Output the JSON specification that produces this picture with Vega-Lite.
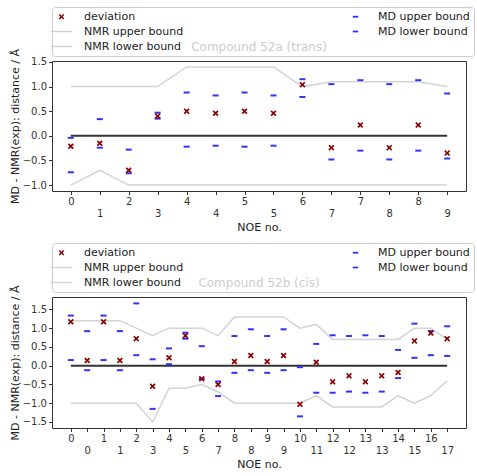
{
  "$schema": "https://vega.github.io/schema/vega-lite/v6.json",
  "padding": {"left": 8, "top": 6, "right": 5, "bottom": 5},
  "spacing": 9,
  "config": {
    "font": "DejaVu Sans",
    "view": {"stroke": "#333333", "strokeWidth": 1},
    "axis": {"labelFont": "DejaVu Sans", "labelFontSize": 10, "labelColor": "#333333", "titleFont": "DejaVu Sans", "titleFontSize": 11, "titleFontWeight": "normal", "titleColor": "#222222", "tickColor": "#333333", "tickSize": 3.5, "domain": false, "grid": false, "labelOverlap": false, "labelFlush": false},
    "legend": {"orient": "none", "legendX": 0, "legendY": -54, "columns": 2, "columnPadding": 166, "rowPadding": 3, "padding": 4, "strokeColor": "#cccccc", "fillColor": "white", "cornerRadius": 3, "symbolSize": 30, "labelFont": "DejaVu Sans", "labelFontSize": 11, "labelColor": "#222222", "labelOffset": 17, "title": null, "symbolStrokeWidth": 0},
    "title": {"font": "DejaVu Sans", "fontSize": 12, "fontWeight": "normal", "color": "#cccccc", "anchor": "middle", "offset": -47.5}
  },
  "resolve": {"scale": {"x": "independent", "y": "independent", "color": "independent", "shape": "independent"}, "legend": {"color": "independent", "shape": "independent"}},
  "vconcat": [
    {
      "width": 414, "height": 130,
      "title": "Compound 52a (trans)",
      "data": {"values": [
        {"pos": 0, "deviation": -0.21, "MD upper bound": -0.04, "MD lower bound": -0.74, "NMR upper bound": 1.0, "NMR lower bound": -1.0},
        {"pos": 1, "deviation": -0.15, "MD upper bound": 0.34, "MD lower bound": -0.24, "NMR upper bound": 1.0, "NMR lower bound": -0.7},
        {"pos": 2, "deviation": -0.7, "MD upper bound": -0.28, "MD lower bound": -0.76, "NMR upper bound": 1.0, "NMR lower bound": -1.0},
        {"pos": 3, "deviation": 0.4, "MD upper bound": 0.47, "MD lower bound": 0.35, "NMR upper bound": 1.0, "NMR lower bound": -1.0},
        {"pos": 4, "deviation": 0.5, "MD upper bound": 0.88, "MD lower bound": -0.22, "NMR upper bound": 1.4, "NMR lower bound": -1.0},
        {"pos": 5, "deviation": 0.46, "MD upper bound": 0.82, "MD lower bound": -0.2, "NMR upper bound": 1.4, "NMR lower bound": -1.0},
        {"pos": 6, "deviation": 0.5, "MD upper bound": 0.88, "MD lower bound": -0.22, "NMR upper bound": 1.4, "NMR lower bound": -1.0},
        {"pos": 7, "deviation": 0.46, "MD upper bound": 0.82, "MD lower bound": -0.2, "NMR upper bound": 1.4, "NMR lower bound": -1.0},
        {"pos": 8, "deviation": 1.04, "MD upper bound": 1.15, "MD lower bound": 0.79, "NMR upper bound": 1.0, "NMR lower bound": -1.0},
        {"pos": 9, "deviation": -0.24, "MD upper bound": 1.05, "MD lower bound": -0.48, "NMR upper bound": 1.1, "NMR lower bound": -1.0},
        {"pos": 10, "deviation": 0.22, "MD upper bound": 1.13, "MD lower bound": -0.3, "NMR upper bound": 1.1, "NMR lower bound": -1.0},
        {"pos": 11, "deviation": -0.24, "MD upper bound": 1.05, "MD lower bound": -0.48, "NMR upper bound": 1.1, "NMR lower bound": -1.0},
        {"pos": 12, "deviation": 0.22, "MD upper bound": 1.13, "MD lower bound": -0.3, "NMR upper bound": 1.1, "NMR lower bound": -1.0},
        {"pos": 13, "deviation": -0.35, "MD upper bound": 0.86, "MD lower bound": -0.46, "NMR upper bound": 1.0, "NMR lower bound": -1.0}
      ]},
      "encoding": {
        "x": {"field": "pos", "type": "quantitative", "scale": {"domain": [-0.65, 13.65], "nice": false, "zero": false},
              "axis": {"title": "NOE no.", "titlePadding": 3, "labelPadding": 2, "labelLineHeight": 12, "labelOverlap": false, "values": [0,1,2,3,4,5,6,7,8,9,10,11,12,13],
                       "labelExpr": "datum.value % 2 == 1 ? ['', ['0','1','2','3','4','4','5','5','6','7','7','8','8','9'][datum.value]] : ['0','1','2','3','4','4','5','5','6','7','7','8','8','9'][datum.value]"}},
        "y": {"field": "value", "type": "quantitative", "scale": {"domain": [-1.12, 1.52], "nice": false, "zero": false},
              "axis": {"title": "MD - NMR(exp): distance / Å", "tickCount": 5, "format": ".1f", "titlePadding": 2, "labelOverlap": false, "labelFlush": false}}
      },
      "layer": [
        {
          "transform": [{"fold": ["NMR upper bound", "NMR lower bound"], "as": ["series", "value"]}],
          "mark": {"type": "line", "color": "#d3d3d3", "strokeWidth": 1.5},
          "encoding": {"detail": {"field": "series"}}
        },
        {
          "transform": [{"fold": ["deviation"], "as": ["series", "value"]}],
          "mark": {"type": "line", "color": "#333333", "strokeWidth": 2},
          "encoding": {"y": {"datum": 0, "type": "quantitative"}}
        },
        {
          "transform": [{"fold": ["MD upper bound", "MD lower bound", "deviation"], "as": ["series", "value"]}],
          "mark": {"type": "point", "filled": true, "size": 36, "opacity": 1, "strokeWidth": 0},
          "encoding": {
            "color": {"field": "series", "type": "nominal", "scale": {"domain": ["deviation", "NMR upper bound", "NMR lower bound", "MD upper bound", "MD lower bound"], "range": ["#8b0000", "#d3d3d3", "#d3d3d3", "#3030ff", "#3030ff"]}},
            "shape": {"field": "series", "type": "nominal", "scale": {"domain": ["deviation", "NMR upper bound", "NMR lower bound", "MD upper bound", "MD lower bound"], "range": ["M-1,-0.6L-0.6,-1L0,-0.4L0.6,-1L1,-0.6L0.4,0L1,0.6L0.6,1L0,0.4L-0.6,1L-1,0.6L-0.4,0Z", "M-4,-0.27H4V0.27H-4Z", "M-4,-0.27H4V0.27H-4Z", "M-1,-0.33H1V0.33H-1Z", "M-1,-0.33H1V0.33H-1Z"]}}
          }
        }
      ]
    },
    {
      "width": 414, "height": 131,
      "title": "Compound 52b (cis)",
      "data": {"values": [
        {"pos": 0, "deviation": 1.17, "MD upper bound": 1.335, "MD lower bound": 0.15, "NMR upper bound": 1.2, "NMR lower bound": -1.0},
        {"pos": 1, "deviation": 0.14, "MD upper bound": 0.92, "MD lower bound": -0.12, "NMR upper bound": 1.2, "NMR lower bound": -1.0},
        {"pos": 2, "deviation": 1.17, "MD upper bound": 1.335, "MD lower bound": 0.15, "NMR upper bound": 1.2, "NMR lower bound": -1.0},
        {"pos": 3, "deviation": 0.14, "MD upper bound": 0.92, "MD lower bound": -0.12, "NMR upper bound": 1.2, "NMR lower bound": -1.0},
        {"pos": 4, "deviation": 0.72, "MD upper bound": 1.66, "MD lower bound": 0.28, "NMR upper bound": 1.0, "NMR lower bound": -1.0},
        {"pos": 5, "deviation": -0.55, "MD upper bound": 0.17, "MD lower bound": -1.15, "NMR upper bound": 0.8, "NMR lower bound": -1.5},
        {"pos": 6, "deviation": 0.21, "MD upper bound": 0.46, "MD lower bound": 0.04, "NMR upper bound": 1.0, "NMR lower bound": -0.6},
        {"pos": 7, "deviation": 0.8, "MD upper bound": 0.88, "MD lower bound": 0.72, "NMR upper bound": 1.0, "NMR lower bound": -0.6},
        {"pos": 8, "deviation": -0.35, "MD upper bound": 0.52, "MD lower bound": -0.35, "NMR upper bound": 1.0, "NMR lower bound": -0.5},
        {"pos": 9, "deviation": -0.5, "MD upper bound": -0.42, "MD lower bound": -0.81, "NMR upper bound": 0.8, "NMR lower bound": -0.7},
        {"pos": 10, "deviation": 0.11, "MD upper bound": 0.79, "MD lower bound": -0.19, "NMR upper bound": 1.3, "NMR lower bound": -1.0},
        {"pos": 11, "deviation": 0.27, "MD upper bound": 0.97, "MD lower bound": -0.12, "NMR upper bound": 1.3, "NMR lower bound": -1.0},
        {"pos": 12, "deviation": 0.11, "MD upper bound": 0.79, "MD lower bound": -0.19, "NMR upper bound": 1.3, "NMR lower bound": -1.0},
        {"pos": 13, "deviation": 0.27, "MD upper bound": 0.97, "MD lower bound": -0.12, "NMR upper bound": 1.3, "NMR lower bound": -1.0},
        {"pos": 14, "deviation": -1.03, "MD upper bound": -0.04, "MD lower bound": -1.35, "NMR upper bound": 1.0, "NMR lower bound": -1.0},
        {"pos": 15, "deviation": 0.09, "MD upper bound": 0.58, "MD lower bound": -0.72, "NMR upper bound": 1.1, "NMR lower bound": -0.8},
        {"pos": 16, "deviation": -0.43, "MD upper bound": 0.81, "MD lower bound": -0.72, "NMR upper bound": 0.7, "NMR lower bound": -1.1},
        {"pos": 17, "deviation": -0.27, "MD upper bound": 0.79, "MD lower bound": -0.69, "NMR upper bound": 0.7, "NMR lower bound": -1.1},
        {"pos": 18, "deviation": -0.43, "MD upper bound": 0.81, "MD lower bound": -0.72, "NMR upper bound": 0.7, "NMR lower bound": -1.1},
        {"pos": 19, "deviation": -0.27, "MD upper bound": 0.79, "MD lower bound": -0.69, "NMR upper bound": 0.7, "NMR lower bound": -1.1},
        {"pos": 20, "deviation": -0.18, "MD upper bound": 0.42, "MD lower bound": -0.33, "NMR upper bound": 0.7, "NMR lower bound": -0.8},
        {"pos": 21, "deviation": 0.66, "MD upper bound": 1.12, "MD lower bound": 0.21, "NMR upper bound": 1.0, "NMR lower bound": -1.0},
        {"pos": 22, "deviation": 0.87, "MD upper bound": 0.92, "MD lower bound": 0.28, "NMR upper bound": 1.0, "NMR lower bound": -0.8},
        {"pos": 23, "deviation": 0.72, "MD upper bound": 1.05, "MD lower bound": 0.26, "NMR upper bound": 0.7, "NMR lower bound": -0.4}
      ]},
      "encoding": {
        "x": {"field": "pos", "type": "quantitative", "scale": {"domain": [-1.15, 24.15], "nice": false, "zero": false},
              "axis": {"title": "NOE no.", "titlePadding": 3, "labelPadding": 2, "labelLineHeight": 12, "labelOverlap": false, "values": [0,1,2,3,4,5,6,7,8,9,10,11,12,13,14,15,16,17,18,19,20,21,22,23],
                       "labelExpr": "datum.value % 2 == 1 ? ['', ['0','0','1','1','2','3','4','5','6','7','8','8','9','9','10','11','12','12','13','13','14','15','16','17'][datum.value]] : ['0','0','1','1','2','3','4','5','6','7','8','8','9','9','10','11','12','12','13','13','14','15','16','17'][datum.value]"}},
        "y": {"field": "value", "type": "quantitative", "scale": {"domain": [-1.66, 1.83], "nice": false, "zero": false},
              "axis": {"title": "MD - NMR(exp): distance / Å", "tickCount": 7, "format": ".1f", "titlePadding": 2, "labelOverlap": false, "labelFlush": false}}
      },
      "layer": [
        {
          "transform": [{"fold": ["NMR upper bound", "NMR lower bound"], "as": ["series", "value"]}],
          "mark": {"type": "line", "color": "#d3d3d3", "strokeWidth": 1.5},
          "encoding": {"detail": {"field": "series"}}
        },
        {
          "transform": [{"fold": ["deviation"], "as": ["series", "value"]}],
          "mark": {"type": "line", "color": "#333333", "strokeWidth": 2},
          "encoding": {"y": {"datum": 0, "type": "quantitative"}}
        },
        {
          "transform": [{"fold": ["MD upper bound", "MD lower bound", "deviation"], "as": ["series", "value"]}],
          "mark": {"type": "point", "filled": true, "size": 36, "opacity": 1, "strokeWidth": 0},
          "encoding": {
            "color": {"field": "series", "type": "nominal", "scale": {"domain": ["deviation", "NMR upper bound", "NMR lower bound", "MD upper bound", "MD lower bound"], "range": ["#8b0000", "#d3d3d3", "#d3d3d3", "#3030ff", "#3030ff"]}},
            "shape": {"field": "series", "type": "nominal", "scale": {"domain": ["deviation", "NMR upper bound", "NMR lower bound", "MD upper bound", "MD lower bound"], "range": ["M-1,-0.6L-0.6,-1L0,-0.4L0.6,-1L1,-0.6L0.4,0L1,0.6L0.6,1L0,0.4L-0.6,1L-1,0.6L-0.4,0Z", "M-4,-0.27H4V0.27H-4Z", "M-4,-0.27H4V0.27H-4Z", "M-1,-0.33H1V0.33H-1Z", "M-1,-0.33H1V0.33H-1Z"]}}
          }
        }
      ]
    }
  ]
}
